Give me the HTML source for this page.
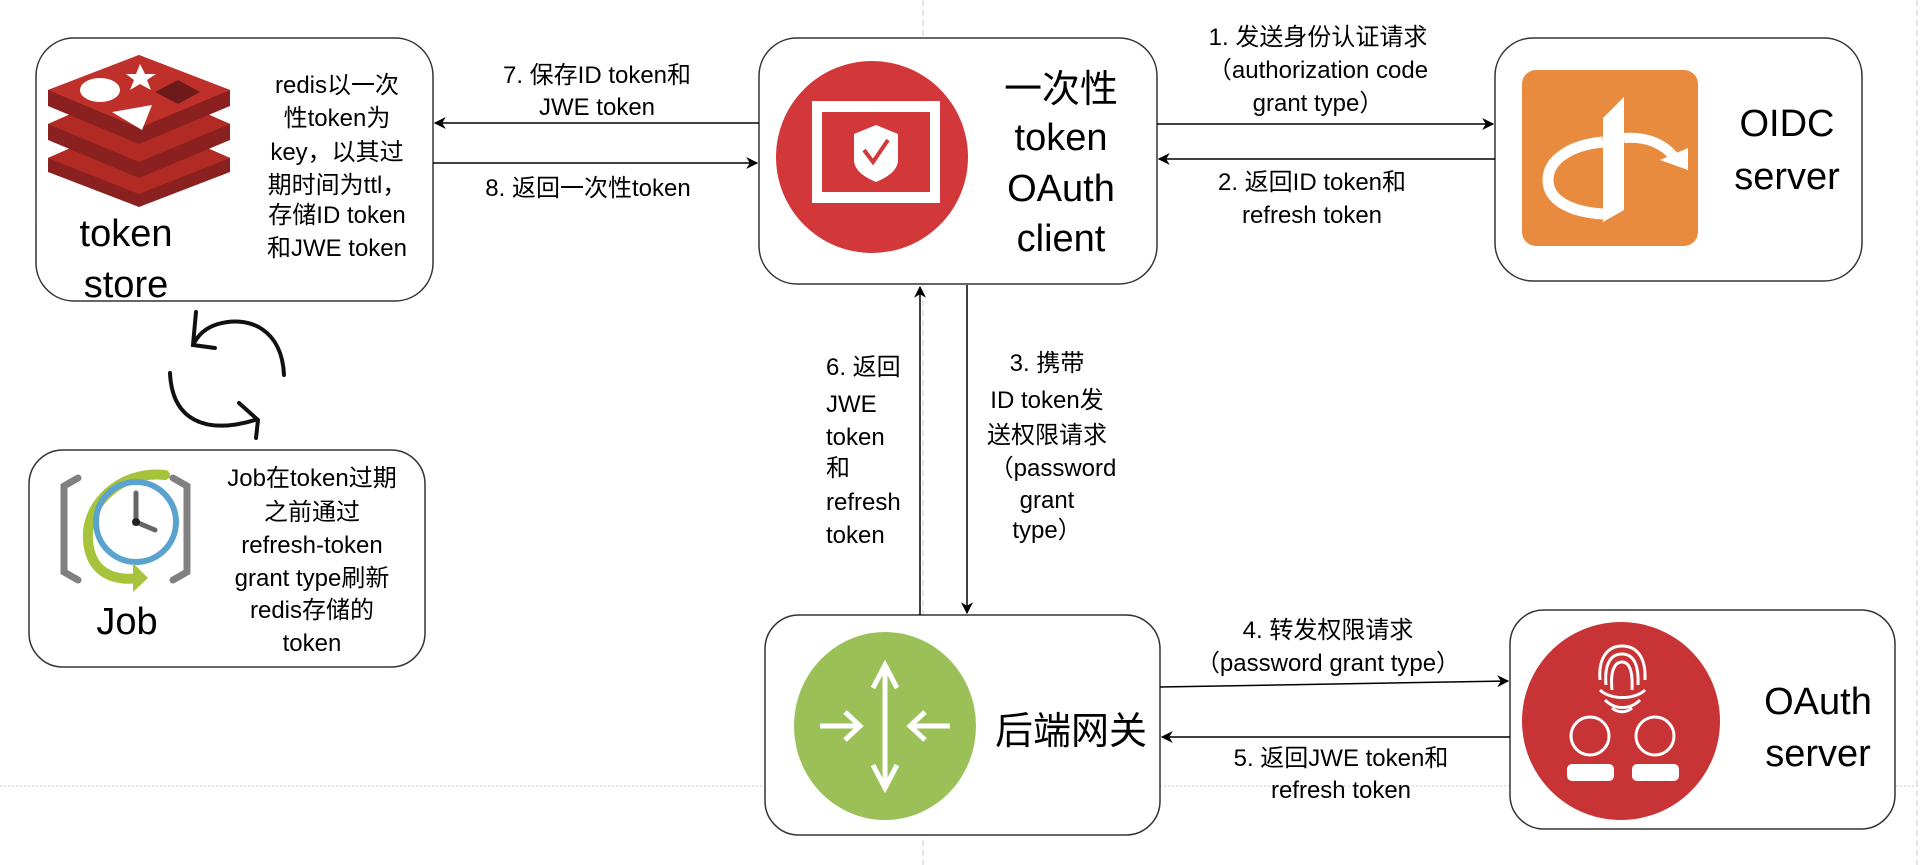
<!DOCTYPE html>
<html><head><meta charset="utf-8"><style>
html,body{margin:0;padding:0;background:#fff;}
svg{display:block;}
text{font-family:"Liberation Sans","Noto Sans CJK SC",sans-serif;fill:#000;}
</style></head><body>
<svg width="1920" height="865" viewBox="0 0 1920 865" xmlns="http://www.w3.org/2000/svg">
<defs>
<marker id="ah" viewBox="0 0 10 10" refX="9" refY="5" markerWidth="8" markerHeight="8" orient="auto"><path d="M0,0 L10,5 L0,10 L3,5 z" fill="#000"/></marker>
</defs>
<line x1="923" y1="0" x2="923" y2="865" stroke="#ccc" stroke-dasharray="6,4"/>
<line x1="1917" y1="0" x2="1917" y2="865" stroke="#ccc" stroke-dasharray="6,4"/>
<line x1="0" y1="786" x2="1920" y2="786" stroke="#ccc" stroke-dasharray="2,2"/>

<g fill="#fff" stroke="#333" stroke-width="1.5">
<rect x="36" y="38" width="397" height="263" rx="38"/>
<rect x="759" y="38" width="398" height="246" rx="38"/>
<rect x="1495" y="38" width="367" height="243" rx="38"/>
<rect x="29" y="450" width="396" height="217" rx="34"/>
<rect x="765" y="615" width="395" height="220" rx="34"/>
<rect x="1510" y="610" width="385" height="219" rx="34"/>
</g>

<g stroke="#000" stroke-width="1.5" fill="none" marker-end="url(#ah)">
<line x1="759" y1="123" x2="435" y2="123"/>
<line x1="433" y1="163" x2="757" y2="163"/>
<line x1="1157" y1="124" x2="1493" y2="124"/>
<line x1="1495" y1="159" x2="1159" y2="159"/>
<line x1="967" y1="285" x2="967" y2="613"/>
<line x1="920" y1="615" x2="920" y2="287"/>
<line x1="1160" y1="687" x2="1508" y2="681"/>
<line x1="1510" y1="737" x2="1162" y2="737"/>
</g>

<!-- redis logo -->
<g>
<path d="M48,158 L139,118 L230,158 L230,172 L139,207 L48,172 z" fill="#8b2020"/>
<path d="M48,158 L139,118 L230,158 L139,194 z" fill="#b22a24"/>
<path d="M48,124 L139,84 L230,124 L230,140 L139,178 L48,140 z" fill="#8b2020"/>
<path d="M48,124 L139,84 L230,124 L139,162 z" fill="#b22a24"/>
<path d="M48,90 L139,55 L230,90 L230,106 L139,144 L48,106 z" fill="#8b2020"/>
<path d="M48,90 L139,55 L230,90 L139,128 z" fill="#c0302a"/>
<ellipse cx="100" cy="90" rx="20" ry="12" fill="#fff"/>
<polygon points="140,64 145,74 156,74 147,80 151,90 140,84 130,90 134,80 126,74 136,74" fill="#fff"/>
<polygon points="112,112 152,105 142,130" fill="#fff"/>
<polygon points="155,92 178,80 200,92 178,104" fill="#6e1a1a"/>
</g>

<g fill="none" stroke="#111" stroke-width="4" stroke-linecap="round">
<path d="M284,375 C282,330 250,315 218,324 C205,328 198,335 193,345"/>
<path d="M196,312 L193,345 L215,348"/>
<path d="M170,373 C172,420 205,435 255,420"/>
<path d="M239,403 L258,420 L256,438"/>
</g>

<circle cx="872" cy="157" r="96" fill="#d2383a"/>
<rect x="812" y="101" width="128" height="102" fill="#fff"/>
<rect x="822" y="112" width="108" height="80" fill="#d2383a"/>
<path d="M876,125 L898,134 L898,160 C898,170 888,177 876,182 C864,177 854,170 854,160 L854,134 z" fill="#fff"/>
<path d="M864,150 L873,162 L888,140" stroke="#d2383a" stroke-width="4" fill="none"/>

<!-- OIDC icon -->
<rect x="1522" y="70" width="176" height="176" rx="14" fill="#e98b3f"/>
<path d="M1603,142 C1570,145 1548,160 1548,180 C1548,200 1570,212 1603,214" stroke="#fff" stroke-width="11" fill="none"/>
<polygon points="1603,118 1624,97 1624,210 1603,222" fill="#fff"/>
<path d="M1624,138 C1648,136 1665,145 1675,158" stroke="#fff" stroke-width="10" fill="none"/>
<polygon points="1660,160 1688,148 1688,170" fill="#fff"/>

<!-- Job icon -->
<g fill="none" stroke-linecap="round">
<path d="M78,478 L64,486 L64,572 L78,580" stroke="#808080" stroke-width="7"/>
<path d="M173,478 L187,486 L187,572 L173,580" stroke="#808080" stroke-width="7"/>
<path d="M165,475 C120,470 85,505 88,540 C90,570 110,582 140,578" stroke="#a6c33b" stroke-width="10"/>
<circle cx="136" cy="522" r="40" stroke="#5aa3cf" stroke-width="6"/>
<path d="M136,493 L136,522 L155,530" stroke="#666" stroke-width="5"/>
</g>
<polygon points="133,563 148,578 133,592" fill="#a6c33b"/>
<circle cx="136" cy="522" r="4" fill="#222"/>

<ellipse cx="885" cy="726" rx="91" ry="94" fill="#9bc058"/>
<g stroke="#fff" stroke-width="5" fill="none">
<line x1="885" y1="665" x2="885" y2="788"/>
<path d="M873,688 L885,665 L897,688"/>
<path d="M873,765 L885,788 L897,765"/>
<line x1="820" y1="726" x2="860" y2="726"/>
<line x1="910" y1="726" x2="950" y2="726"/>
<path d="M845,712 L860,726 L845,740"/>
<path d="M925,712 L910,726 L925,740"/>
</g>

<circle cx="1621" cy="721" r="99" fill="#c83436"/>
<g stroke="#fff" stroke-width="3" fill="none">
<path d="M1600,680 C1598,655 1610,646 1622,646 C1636,646 1646,656 1645,680"/>
<path d="M1606,685 C1604,662 1612,654 1622,654 C1632,654 1639,662 1638,685"/>
<path d="M1612,690 C1610,670 1615,662 1622,662 C1629,662 1633,670 1632,690"/>
<path d="M1600,690 C1610,700 1635,700 1645,690"/>
<path d="M1605,700 C1615,710 1630,710 1640,700"/>
<path d="M1612,708 C1618,713 1626,713 1632,708"/>
<circle cx="1590" cy="736" r="19"/>
<circle cx="1655" cy="736" r="19"/>
</g>
<rect x="1567" y="764" width="47" height="17" rx="5" fill="#fff"/>
<rect x="1632" y="764" width="47" height="17" rx="5" fill="#fff"/>

<g font-size="24" text-anchor="middle">
<text x="337" y="93">redis以一次</text>
<text x="337" y="126">性token为</text>
<text x="337" y="160">key，以其过</text>
<text x="337" y="193">期时间为ttl，</text>
<text x="337" y="223">存储ID token</text>
<text x="337" y="256">和JWE token</text>

<text x="597" y="83">7. 保存ID token和</text>
<text x="597" y="115">JWE token</text>
<text x="588" y="196">8. 返回一次性token</text>

<text x="1318" y="45">1. 发送身份认证请求</text>
<text x="1318" y="78">（authorization code</text>
<text x="1318" y="111">grant type）</text>
<text x="1312" y="190">2. 返回ID token和</text>
<text x="1312" y="223">refresh token</text>

<text x="1047" y="371">3. 携带</text>
<text x="1047" y="408">ID token发</text>
<text x="1047" y="443">送权限请求</text>
<text x="1053" y="476">（password</text>
<text x="1047" y="508">grant</text>
<text x="1047" y="538">type）</text>

<text x="1328" y="638">4. 转发权限请求</text>
<text x="1328" y="671">（password grant type）</text>
<text x="1341" y="766">5. 返回JWE token和</text>
<text x="1341" y="798">refresh token</text>

<text x="312" y="486">Job在token过期</text>
<text x="312" y="520">之前通过</text>
<text x="312" y="553">refresh-token</text>
<text x="312" y="586">grant type刷新</text>
<text x="312" y="618">redis存储的</text>
<text x="312" y="651">token</text>
</g>
<g font-size="24">
<text x="826" y="375">6. 返回</text>
<text x="826" y="412">JWE</text>
<text x="826" y="445">token</text>
<text x="826" y="476">和</text>
<text x="826" y="510">refresh</text>
<text x="826" y="543">token</text>
</g>
<g font-size="38" text-anchor="middle">
<text x="126" y="246">token</text>
<text x="126" y="297">store</text>
<text x="1061" y="102">一次性</text>
<text x="1061" y="150">token</text>
<text x="1061" y="201">OAuth</text>
<text x="1061" y="251">client</text>
<text x="1787" y="136">OIDC</text>
<text x="1787" y="189">server</text>
<text x="1818" y="714">OAuth</text>
<text x="1818" y="766">server</text>
<text x="127" y="634">Job</text>
<text x="1071" y="744">后端网关</text>
</g>
</svg>
</body></html>
